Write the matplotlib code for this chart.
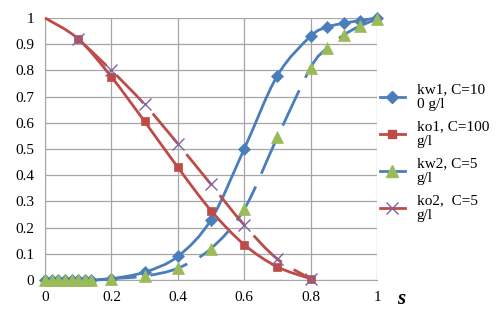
import numpy as np
import matplotlib
matplotlib.use("Agg")
import matplotlib.pyplot as plt
from matplotlib.path import Path
from matplotlib.patches import PathPatch
from matplotlib.lines import Line2D

plt.rcParams['font.family'] = ['Liberation Serif', 'DejaVu Serif']

# data
s_kw1 = [0, 0.02, 0.04, 0.06, 0.08, 0.1, 0.12, 0.14, 0.2, 0.3, 0.4, 0.5, 0.6, 0.7, 0.8, 0.85, 0.9, 0.95, 1.0]
kw1 = [0, 0, 0, 0, 0, 0, 0, 0, 0.005, 0.03, 0.09, 0.23, 0.50, 0.78, 0.93, 0.965, 0.98, 0.99, 1.0]

s_ko1 = [0, 0.1, 0.2, 0.3, 0.4, 0.5, 0.6, 0.7, 0.8]
ko1 = [1.0, 0.92, 0.775, 0.605, 0.43, 0.265, 0.135, 0.05, 0.005]

s_kw2 = [0, 0.02, 0.04, 0.06, 0.08, 0.1, 0.12, 0.14, 0.2, 0.3, 0.4, 0.5, 0.6, 0.7, 0.8, 0.85, 0.9, 0.95, 1.0]
kw2 = [0, 0, 0, 0, 0, 0, 0, 0, 0.005, 0.015, 0.045, 0.12, 0.27, 0.545, 0.81, 0.885, 0.935, 0.97, 0.995]

s_ko2 = [0.1, 0.2, 0.3, 0.4, 0.5, 0.6, 0.7, 0.8]
ko2 = [0.92, 0.80, 0.67, 0.52, 0.365, 0.21, 0.08, 0.005]

labels = ['kw1, C=10\n0 g/l', 'ko1, C=100\ng/l', 'kw2, C=5\ng/l', 'ko2,  C=5\ng/l']

blue = '#4a7ebb'
red = '#be4b48'
green = '#9bbb59'
purple = '#8064a2'


def smooth_path(x, y):
    # Excel-like smoothed line: Catmull-Rom as cubic Bezier segments
    p = np.column_stack([x, y]).astype(float)
    n = len(p)
    verts = [p[0]]
    codes = [Path.MOVETO]
    for i in range(n - 1):
        p0 = p[i - 1] if i > 0 else p[i]
        p3 = p[i + 2] if i + 2 < n else p[i + 1]
        c1 = p[i] + (p[i + 1] - p0) / 6.0
        c2 = p[i + 1] - (p3 - p[i]) / 6.0
        verts += [c1, c2, p[i + 1]]
        codes += [Path.CURVE4] * 3
    return Path(verts, codes)


fig = plt.figure(figsize=(5, 3.2), dpi=100)
ax = fig.add_axes([0.09, 0.125, 0.664, 0.819])

series = [
    (s_kw1, kw1, blue, 'D', blue, 'solid', 6, None),
    (s_ko1, ko1, red, 's', red, 'solid', 6, slice(1, None)),
    (s_kw2, kw2, blue, '^', green, (0, (14, 5)), 8, None),
    (s_ko2, ko2, red, 'x', purple, (0, (14, 5)), 8, None),
]

handles = []
for x, y, lc, mk, mc, ls, ms, every in series:
    patch = PathPatch(smooth_path(x, y), facecolor='none', edgecolor=lc,
                      lw=2, linestyle=ls, zorder=3, clip_on=False)
    ax.add_patch(patch)
    ax.plot(x, y, linestyle='none', marker=mk, color=mc, markersize=ms,
            markevery=every, markeredgewidth=1 if mk == 'x' else 0.5,
            zorder=4, clip_on=False)
    handles.append(Line2D([], [], color=lc, lw=2, marker=mk, markerfacecolor=mc,
                          markeredgecolor=mc, markersize=ms))

ax.set_xlim(0, 1)
ax.set_ylim(0, 1)
ax.set_xticks(np.arange(0, 1.01, 0.2))
ax.set_yticks(np.arange(0, 1.01, 0.1))
ax.set_xticklabels(['0', '0.2', '0.4', '0.6', '0.8', '1'])
ax.set_yticklabels(['0', '0.1', '0.2', '0.3', '0.4', '0.5', '0.6', '0.7', '0.8', '0.9', '1'])
ax.tick_params(length=0, labelsize=11, pad=8)
ax.grid(True, color='#a6a6a6', lw=0.9)
ax.set_axisbelow(True)
for sp in ax.spines.values():
    sp.set_visible(False)
ax.spines['left'].set_visible(True)
ax.spines['left'].set_color('#a6a6a6')
ax.spines['bottom'].set_visible(True)
ax.spines['bottom'].set_color('#a6a6a6')

leg = fig.legend(handles, labels, loc='upper left', bbox_to_anchor=(0.748, 0.76),
                 frameon=False, fontsize=11, handlelength=1.6, labelspacing=0.6,
                 handletextpad=0.8, borderaxespad=0)

fig.text(0.795, 0.05, 's', fontsize=15, fontweight='bold', fontstyle='italic')

fig.savefig('out.png', dpi=100)
